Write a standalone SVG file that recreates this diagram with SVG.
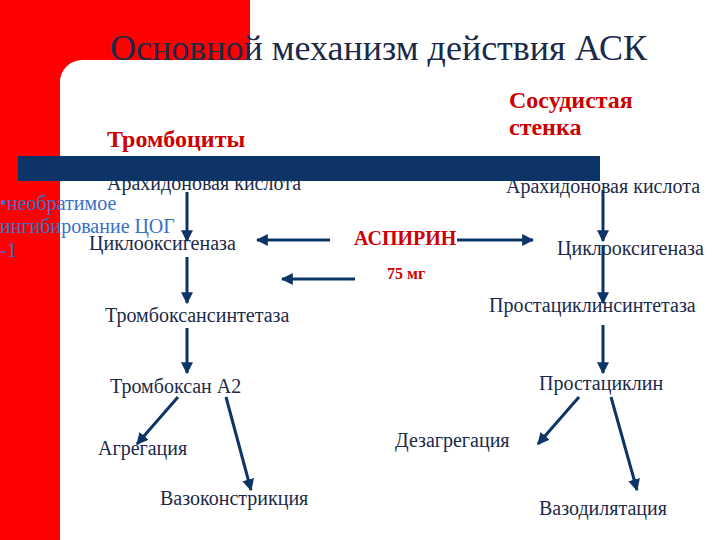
<svg xmlns="http://www.w3.org/2000/svg" width="720" height="540" viewBox="0 0 720 540">
<defs>
<marker id="ah" viewBox="0 0 10 10" refX="9" refY="5" markerWidth="4" markerHeight="4" orient="auto" markerUnits="strokeWidth">
<path d="M0,0 L10,5 L0,10 Z" fill="#0d3466"/>
</marker>
<style>
text{font-family:'Liberation Serif',serif}
.t{fill:#1b2a48}
.n{font-size:20px;fill:#1b2a48}
.red{fill:#cc0000;font-weight:bold}
.blue{fill:#3a6fc6;font-size:20px}
.c line{stroke:#0d3466;stroke-width:3;marker-end:url(#ah)}
</style>
</defs>
<rect width="720" height="540" fill="#fff"/>
<path d="M0,0 H250 V60 H82 A22,22 0 0 0 60,82 V540 H0 Z" fill="#ff0000"/>
<g id="title"><text class="t" x="110" y="60" font-size="36">Основной механизм действия АСК</text></g>
<g id="platelets"><text class="red" x="107" y="147" font-size="24">Тромбоциты</text></g>
<g id="vessel"><text class="red" x="509" y="108" font-size="24">Сосудистая</text><text class="red" x="509" y="135" font-size="24">стенка</text></g>
<g id="note"><text class="blue" x="0" y="210">•необратимое</text><text class="blue" x="0" y="233">ингибирование ЦОГ</text><text class="blue" x="0" y="257">-1</text></g>
<g id="aa-left"><text class="n" x="107" y="190">Арахидоновая кислота</text></g>
<g id="aa-right"><text class="n" x="506" y="193">Арахидоновая кислота</text></g>
<rect x="18" y="156" width="582" height="25" fill="#0d3466"/>
<rect x="18" y="156" width="30" height="25" rx="12" fill="#0d3466"/>
<g id="cox-left"><text class="n" x="89" y="250">Циклооксигеназа</text></g>
<g id="cox-right"><text class="n" x="557" y="255">Циклооксигеназа</text></g>
<g id="aspirin"><text class="red" x="354" y="245" font-size="20">АСПИРИН</text></g>
<g id="dose"><text class="red" x="387" y="279" font-size="16">75 мг</text></g>
<g id="txs"><text class="n" x="105" y="322">Тромбоксансинтетаза</text></g>
<g id="pgis"><text class="n" x="489" y="312">Простациклинсинтетаза</text></g>
<g id="txa2"><text class="n" x="110" y="393">Тромбоксан А2</text></g>
<g id="pgi2"><text class="n" x="539" y="390">Простациклин</text></g>
<g id="aggr"><text class="n" x="98" y="455">Агрегация</text></g>
<g id="vasoc"><text class="n" x="160" y="505">Вазоконстрикция</text></g>
<g id="disaggr"><text class="n" x="395" y="447">Дезагрегация</text></g>
<g id="vasod"><text class="n" x="539" y="515">Вазодилятация</text></g>
<g id="connectors" class="c">
<line x1="187" y1="192" x2="187" y2="241"/>
<line x1="187" y1="257" x2="187" y2="303"/>
<line x1="187" y1="328" x2="187" y2="373"/>
<line x1="178" y1="397" x2="137" y2="444"/>
<line x1="226" y1="397" x2="251" y2="490"/>
<line x1="330" y1="240" x2="257" y2="240"/>
<line x1="355" y1="279" x2="282" y2="279"/>
<line x1="457" y1="240" x2="533" y2="240"/>
<line x1="603" y1="190" x2="603" y2="241"/>
<line x1="603" y1="245" x2="603" y2="303"/>
<line x1="603" y1="325" x2="603" y2="373"/>
<line x1="579" y1="397" x2="538" y2="444"/>
<line x1="611" y1="397" x2="637" y2="490"/>
</g>
</svg>
